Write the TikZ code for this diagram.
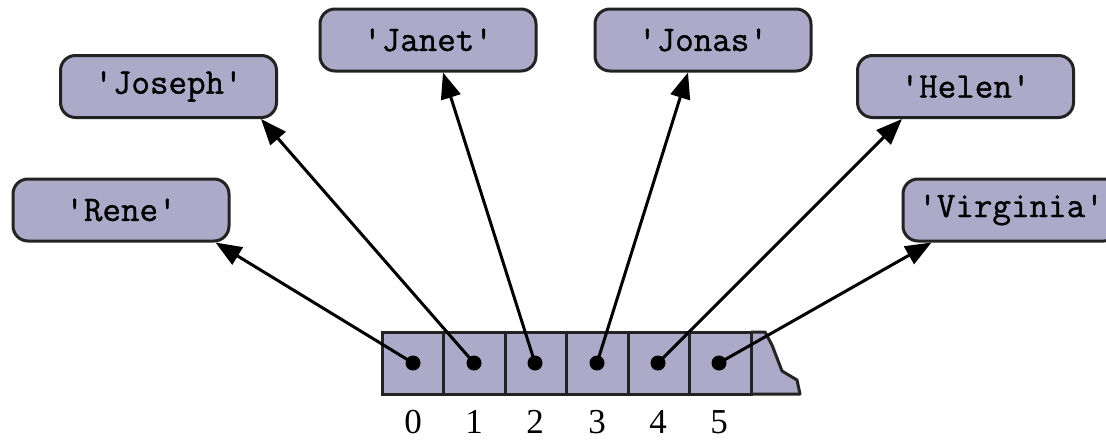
\documentclass[tikz,border=0pt]{standalone}
\usepackage{fontspec}
\setmainfont{Liberation Serif}
\setmonofont[FakeBold=1]{Latin Modern Mono}
\usetikzlibrary{arrows.meta}
\definecolor{boxfill}{RGB}{172,169,201}
\definecolor{edge}{RGB}{35,35,35}
\newcommand{\q}{\textquotesingle}
\begin{document}
\begin{tikzpicture}[x=1pt,y=-1pt,
  namebox/.style={draw=edge,line width=3pt,fill=boxfill,rounded corners=15pt,
    minimum width=216pt,minimum height=62pt,inner sep=0pt,
    font=\fontsize{36}{36}\selectfont\ttfamily},
  dot/.style={circle,fill=black,inner sep=0pt,minimum size=15pt},
  idx/.style={anchor=base,inner sep=0pt,font=\fontsize{35}{35}\selectfont},
  cell/.style={draw=edge,line width=3pt,fill=boxfill},
  arr/.style={line width=3pt,-{Triangle[length=26pt,width=20pt]}}]
\useasboundingbox (0,0) rectangle (1106,442);
% name boxes
\node[namebox] (rene) at (121,210) {\q Rene\q};
\node[namebox] (joseph) at (168.5,86.5) {\q Joseph\q};
\node[namebox] (janet) at (428,40) {\q Janet\q};
\node[namebox] (jonas) at (703,40) {\q Jonas\q};
\node[namebox] (helen) at (965.5,86.5) {\q Helen\q};
\node[namebox] (virginia) at (1011,210) {\q Virginia\q};
% array
\draw[cell,line join=round] (751,332) -- (765,332) -- (772,345) -- (782,371) -- (797,380) -- (800,394) -- (751,394) -- cycle;
\foreach \a/\b in {382/443,443/505,505/566,566/628,628/689,689/751}
  \draw[cell] (\a,332) rectangle (\b,394);
% dots and indices
\foreach \i/\x in {0/413,1/474,2/535,3/597,4/658,5/719}{
  \node[dot] (d\i) at (\x,363) {};
  \node[idx] (n\i) at (\x,433) {\i};
}
% arrows
\coordinate (t0) at ([xshift=-15pt]rene.south east);
\coordinate (t1) at ([xshift=-17pt]joseph.south east);
\coordinate (t2) at ([xshift=15pt]janet.south);
\coordinate (t3) at ([xshift=-15pt]jonas.south);
\coordinate (t4) at ([xshift=46pt]helen.south west);
\coordinate (t5) at ([xshift=30pt]virginia.south west);
\foreach \i in {0,...,5}
  \draw[arr] (d\i.center) -- (t\i);
\end{tikzpicture}
\end{document}
